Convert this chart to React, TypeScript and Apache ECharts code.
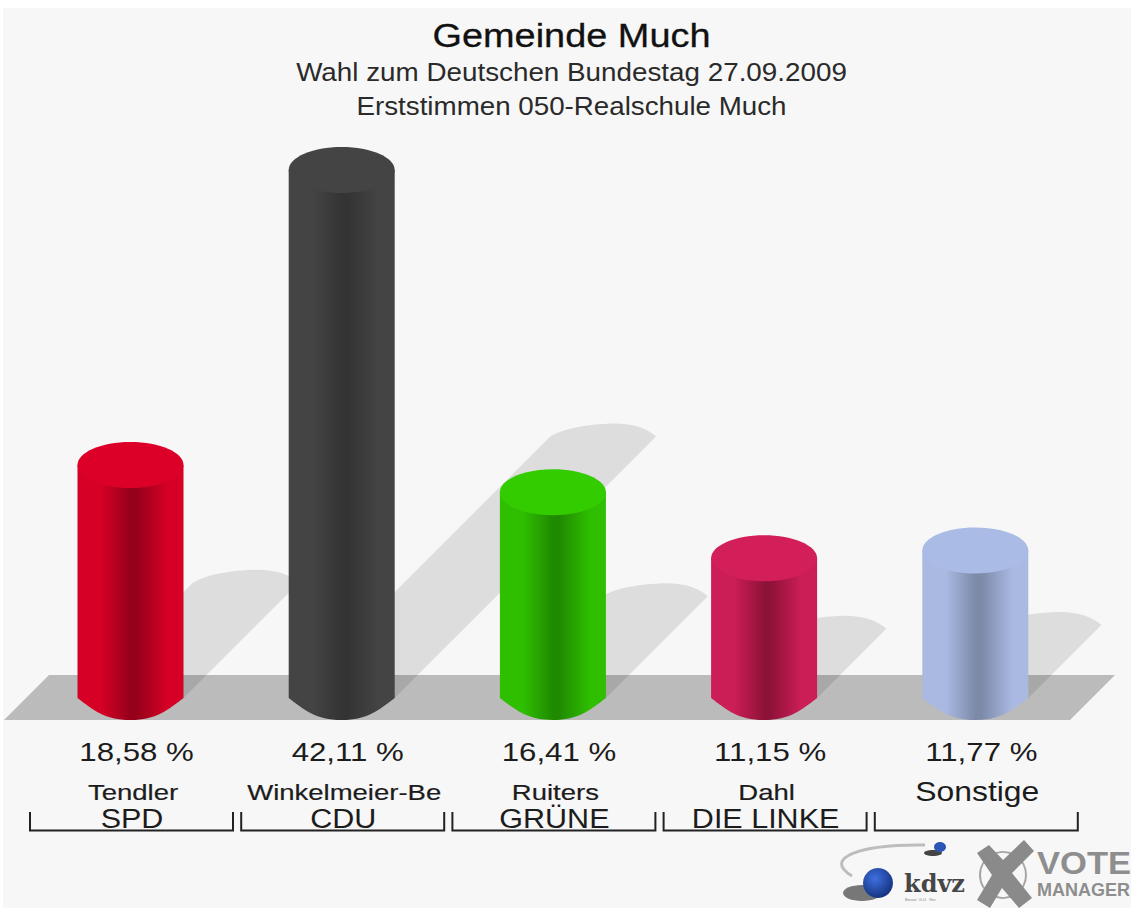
import React, { useEffect, useRef } from "react";
import * as echarts from "echarts";

const names = ["Tendler", "Winkelmeier-Be", "Ruiters", "Dahl", "Sonstige"];
const parties = ["SPD", "CDU", "GRÜNE", "DIE LINKE", ""];
const values = [18.58, 42.11, 16.41, 11.15, 11.77];
const valueLabels = ["18,58 %", "42,11 %", "16,41 %", "11,15 %", "11,77 %"];
const edgeColors = ["#d60026", "#444444", "#2fbe00", "#cb1d56", "#a9b9e2"];
const darkColors = ["#96001a", "#343434", "#1f8a00", "#8e1238", "#7d8aa8"];
const topColors = ["#dc0028", "#444444", "#33cc00", "#d21f5a", "#aabbe6"];
const FONT = "'Liberation Sans', Arial, sans-serif";

const RX = 53;
const RY = 22;
const SHADOW_RATIO = 0.495;

function renderShadow(params: any, api: any) {
  const i = api.value(0);
  const [cx, top] = api.coord([i, api.value(1)]);
  const [, base] = api.coord([i, 0]);
  const off = (base - top) * SHADOW_RATIO;
  const tx = cx + off;
  const ty = base - off;
  const ry = 13;
  const d = `M ${cx - RX} ${base} L ${tx - RX} ${ty} C ${tx - RX + 22} ${ty - ry} ${tx + 10} ${ty - ry} ${tx + 12} ${ty - ry} C ${tx + 30} ${ty - ry} ${tx + RX - 8} ${ty - ry * 0.6} ${tx + RX} ${ty} L ${cx + RX} ${base} Z`;
  return {
    type: "path",
    shape: { pathData: d, layout: "cover", x: cx - RX, y: ty - ry, width: off + 2 * RX, height: off + ry },
    style: { fill: "rgba(0,0,0,0.1)" },
  };
}

function renderCyl(params: any, api: any) {
  const i = api.value(0);
  const [cx, top] = api.coord([i, api.value(1)]);
  const [, base] = api.coord([i, 0]);
  const body =
    `M ${cx - RX} ${top} L ${cx - RX} ${base} ` +
    `C ${cx - RX + 16} ${base + 12} ${cx - 26} ${base + RY} ${cx} ${base + RY} ` +
    `C ${cx + 26} ${base + RY} ${cx + RX - 16} ${base + 12} ${cx + RX} ${base} L ${cx + RX} ${top} Z`;
  const t = (s: string, dx: number, y: number, size: number, sx: number, stroke = 0) => ({
    type: "text",
    x: cx + dx,
    y,
    scaleX: sx,
    style: {
      text: s,
      x: 0,
      y: 0,
      fill: "#1c1c1c",
      stroke: stroke ? "#1c1c1c" : undefined,
      lineWidth: stroke,
      font: `${size}px ${FONT}`,
      textAlign: "center",
      textVerticalAlign: "middle",
    },
  });
  const bx = cx - 100.5;
  return {
    type: "group",
    children: [
      {
        type: "path",
        shape: { pathData: body, layout: "cover", x: cx - RX, y: top, width: 2 * RX, height: base + RY - top },
        style: {
          fill: new echarts.graphic.LinearGradient(0, 0, 1, 0, [
            { offset: 0, color: edgeColors[i] },
            { offset: 0.22, color: edgeColors[i] },
            { offset: 0.5, color: darkColors[i] },
            { offset: 0.56, color: darkColors[i] },
            { offset: 0.85, color: edgeColors[i] },
            { offset: 1, color: edgeColors[i] },
          ]),
        },
      },
      { type: "ellipse", shape: { cx, cy: top, rx: RX, ry: RY + 1 }, style: { fill: topColors[i] } },
      t(valueLabels[i], 6, 752, 26, 1.2),
      i === 4 ? t(names[i], 2, 791, 27, 1.18) : t(names[i], 2.5, 792, 22, 1.25, 0.2),
      t(parties[i], 1.5, 818, 28, 1.09),
      {
        type: "polyline",
        shape: { points: [[bx, 812], [bx, 830.5], [bx + 203, 830.5], [bx + 203, 812]] },
        style: { stroke: "#222", lineWidth: 2, fill: "none" },
      },
    ],
  };
}

const head = (text: string, y: number, size: number, sx: number, color: string, stroke = 0) => ({
  type: "text",
  z: 5,
  x: 571.5,
  y,
  scaleX: sx,
  style: {
    text,
    x: 0,
    y: 0,
    font: `${size}px ${FONT}`,
    fill: color,
    stroke: stroke ? color : undefined,
    lineWidth: stroke,
    textAlign: "center",
    textVerticalAlign: "middle",
  },
});

export default function App() {
  const ref = useRef<HTMLDivElement>(null);
  useEffect(() => {
    document.body.style.margin = "0";
    const chart = echarts.init(ref.current!, null, { renderer: "svg" });
    const data = values.map((v, i) => [i, v]);
    chart.setOption({
      animation: false,
      backgroundColor: "#ffffff",
      grid: { left: 24.9, top: 133.7, width: 1056, height: 564.3 },
      xAxis: { type: "category", data: names, show: false },
      yAxis: { type: "value", min: 0, max: 45, show: false },
      graphic: [
        { type: "rect", z: -10, shape: { x: 3, y: 8, width: 1128, height: 900 }, style: { fill: "#f7f7f7" } },
        { type: "polygon", z: -9, shape: { points: [[4, 720], [49, 675], [1115, 675], [1070, 720]] }, style: { fill: "#bbbbbb" } },
        head("Gemeinde Much", 35, 34, 1.115, "#111111", 0.3),
        head("Wahl zum Deutschen Bundestag 27.09.2009", 72, 26, 1.07, "#2a2a2a"),
        head("Erststimmen 050-Realschule Much", 106, 26, 1.067, "#2a2a2a"),
        // kdvz logo
        { type: "bezierCurve", z: 5, shape: { x1: 852, y1: 876, cpx1: 822, cpy1: 858, cpx2: 860, cpy2: 844, x2: 925, y2: 845 }, style: { stroke: "#bdbdbd", lineWidth: 3, fill: "none" } },
        { type: "ellipse", z: 5, shape: { cx: 862, cy: 893, rx: 19, ry: 8 }, style: { fill: "#333", opacity: 0.65 } },
        { type: "circle", z: 6, shape: { cx: 878, cy: 883, r: 15 }, style: { fill: new echarts.graphic.RadialGradient(0.4, 0.35, 0.7, [{ offset: 0, color: "#3f6fe0" }, { offset: 1, color: "#12307a" }]) } },
        { type: "ellipse", z: 5, shape: { cx: 933, cy: 853, rx: 9, ry: 3 }, style: { fill: "#444" } },
        { type: "ellipse", z: 6, shape: { cx: 940, cy: 847, rx: 6, ry: 5 }, style: { fill: "#2b56b8" } },
        { type: "text", z: 6, style: { text: "kdvz", x: 904, y: 883, font: `bold 24px 'DejaVu Serif', serif`, fill: "#2d2d2d", textVerticalAlign: "middle", opacity: 0.9 } },
        { type: "text", z: 6, style: { text: "Beratz  G.U.  Rec", x: 905, y: 899, font: `4px ${FONT}`, fill: "#888", textVerticalAlign: "middle" } },
        // X mark
        { type: "circle", z: 5, shape: { cx: 1003, cy: 875, r: 23 }, style: { fill: "none", stroke: "#a5a5a5", lineWidth: 2 } },
        { type: "polygon", z: 6, shape: { points: [[977, 853], [989, 845], [1003, 860], [1024, 840], [1034, 851], [1012, 873], [1032, 898], [1019, 908], [1002, 888], [990, 908], [977, 900], [992, 875]] }, style: { fill: "#8a8a8a" } },
        { type: "text", z: 6, x: 1037, y: 863, scaleX: 1.08, style: { text: "VOTE", x: 0, y: 0, font: `bold 32px 'Liberation Sans', sans-serif`, fill: "#8e8e8e", textVerticalAlign: "middle" } },
        { type: "text", z: 6, style: { text: "MANAGER", x: 1037, y: 890, font: `bold 18px 'Liberation Sans', sans-serif`, fill: "#8e8e8e", textVerticalAlign: "middle" } },
      ],
      series: [
        { type: "custom", z: 1, clip: false, silent: true, renderItem: renderShadow, data, encode: { x: 0, y: 1 } },
        { type: "custom", z: 2, clip: false, silent: true, renderItem: renderCyl, data, encode: { x: 0, y: 1 } },
      ],
    });
    return () => chart.dispose();
  }, []);
  return <div ref={ref} style={{ width: 1131, height: 911 }} />;
}
